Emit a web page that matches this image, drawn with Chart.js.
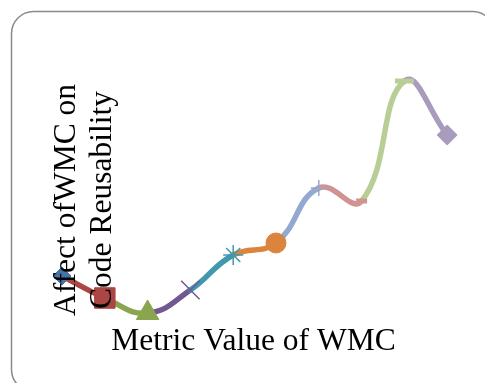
<!DOCTYPE html>
<html>
<head>
<meta charset="utf-8">
<script src="https://cdn.jsdelivr.net/npm/chart.js@4/dist/chart.umd.min.js"></script>
<style>
  html, body { margin: 0; padding: 0; background: #fff; }
  #wrap { width: 485px; height: 383px; }
</style>
</head>
<body>
<div id="wrap"><canvas id="c" width="485" height="383"></canvas></div>
<script>
// Metric categories along the x axis
const categories = ['1', '2', '3', '4', '5', '6', '7', '8', '9', '10'];
// Effect of WMC on code reusability at each metric value
const reuseEffect = [2.7, 1.6, 0.85, 2.0, 3.75, 4.35, 7.1, 6.45, 12.45, 9.75];
// Axis titles
const xTitle = 'Metric Value of WMC';
const yTitleLines = ['Affect ofWMC on', 'Code Reusability'];

// One colour per segment / marker
const seriesColors = ['#4572A7', '#AA4643', '#89A54E', '#71588F', '#4198AF',
                      '#DB843D', '#93A9CF', '#D19392', '#B9CD96', '#A99BBD'];
const markerStyles = ['rectRot', 'rect', 'triangle', 'crossRot', 'star',
                      'circle', 'cross', 'line', 'line', 'rectRot'];
const markerRadius = [9, 14.5, 13, 13, 10, 10, 8, 5.5, 9.5, 10];
const markerBorder = [1, 1, 1, 1.5, 1.5, 1, 1.5, 5, 5, 1];

const SERIF = '"Liberation Serif", "Times New Roman", serif';

// Rounded frame behind the chart
const framePlugin = {
  id: 'frame',
  beforeDraw(chart) {
    const ctx = chart.ctx;
    ctx.save();
    ctx.fillStyle = '#ffffff';
    ctx.fillRect(0, 0, chart.width, chart.height);
    ctx.beginPath();
    ctx.roundRect(11.5, 11.5, 483, 380, 22);
    ctx.strokeStyle = '#8a8a8a';
    ctx.lineWidth = 1.5;
    ctx.stroke();
    ctx.restore();
  }
};

// Axis titles drawn over the plot
const titlePlugin = {
  id: 'titles',
  afterDraw(chart) {
    const ctx = chart.ctx;
    ctx.save();
    ctx.fillStyle = '#000';
    ctx.font = '31.5px ' + SERIF;
    ctx.textAlign = 'center';
    ctx.textBaseline = 'alphabetic';
    ctx.fillText(xTitle, 253.5, 350);
    const baselines = [75, 111];
    yTitleLines.forEach((line, i) => {
      ctx.save();
      ctx.translate(baselines[i], 200);
      ctx.rotate(-Math.PI / 2);
      ctx.fillText(line, 0, 0);
      ctx.restore();
    });
    ctx.restore();
  }
};

new Chart(document.getElementById('c'), {
  type: 'line',
  data: {
    labels: categories,
    datasets: [{
      data: reuseEffect,
      borderWidth: 5.5,
      borderCapStyle: 'round',
      borderJoinStyle: 'round',
      tension: 0.45,
      fill: false,
      segment: {
        borderColor: ctx => seriesColors[ctx.p1DataIndex]
      },
      pointStyle: markerStyles,
      pointRadius: markerRadius,
      pointHoverRadius: markerRadius,
      pointBorderWidth: markerBorder,
      pointBackgroundColor: seriesColors,
      pointBorderColor: seriesColors
    }]
  },
  options: {
    responsive: false,
    animation: false,
    events: [],
    layout: { padding: { left: 40.6, right: 16.4, top: 50, bottom: 53 } },
    plugins: { legend: { display: false }, tooltip: { enabled: false } },
    scales: {
      x: { type: 'category', offset: true, display: false },
      y: { min: 0, max: 14, display: false }
    }
  },
  plugins: [framePlugin, titlePlugin]
});
</script>
</body>
</html>
